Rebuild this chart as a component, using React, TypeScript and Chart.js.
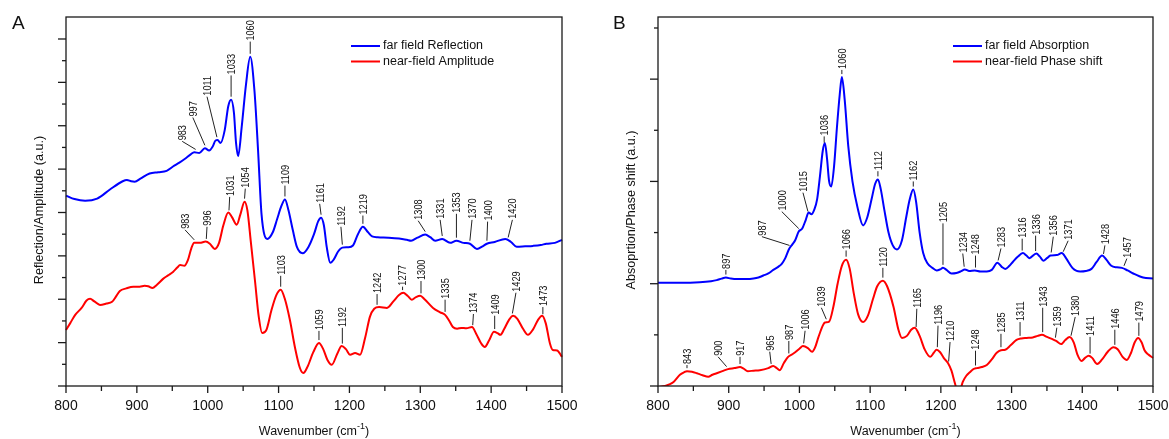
import React, { useEffect, useRef } from "react";
import { Chart, registerables } from "chart.js";

Chart.register(...registerables);

// ---------------- data ----------------
const xTickLabels = [800, 900, 1000, 1100, 1200, 1300, 1400, 1500];

// Panel A – far field reflection (blue)
const waveReflection = [
  800, 812, 827, 844, 862, 880, 886, 892, 897, 905, 918, 930, 942, 951, 960, 968, 976, 981, 988, 996,
  1002, 1007, 1011, 1014, 1018, 1024, 1029, 1033, 1037, 1040, 1043, 1048, 1054, 1060, 1066, 1071, 1076,
  1084, 1092, 1098, 1104, 1109, 1114, 1120, 1126, 1134, 1142, 1150, 1156, 1160, 1164, 1168, 1173, 1178,
  1184, 1190, 1198, 1205, 1212, 1219, 1226, 1232, 1240, 1255, 1270, 1281, 1287, 1296, 1307, 1314, 1321,
  1331, 1342, 1351, 1361, 1370, 1380, 1388, 1394, 1405, 1420, 1428, 1436, 1448, 1459, 1470, 1478, 1490, 1500,
];
const farReflection = [
  4.39, 4.31, 4.27, 4.32, 4.53, 4.72, 4.75, 4.72, 4.71, 4.78, 4.9, 4.93, 4.96, 5.06, 5.15, 5.24, 5.34, 5.39, 5.37, 5.48,
  5.43, 5.52, 5.66, 5.67, 5.6, 5.9, 6.45, 6.6, 6.3, 5.6, 5.3, 5.98, 6.95, 7.59, 6.8, 5.45, 3.95,
  3.39, 3.55, 3.85, 4.15, 4.3, 4.05, 3.6, 3.2, 3.06, 3.2, 3.5, 3.8, 3.88, 3.7, 3.2, 2.84, 2.92,
  3.1, 3.19, 3.2, 3.24, 3.5, 3.67, 3.55, 3.45, 3.43, 3.42, 3.4, 3.37, 3.35, 3.42, 3.49, 3.43, 3.35,
  3.39, 3.3, 3.35, 3.3, 3.28, 3.16, 3.22, 3.28, 3.32, 3.39, 3.32, 3.21, 3.22, 3.23, 3.25, 3.28, 3.3, 3.37,
];

// Panel A – near-field amplitude (red)
const waveAmplitude = [
  800, 806, 813, 822, 829, 834, 840, 848, 857, 865, 870, 876, 885, 895, 904, 911, 916, 922, 928, 937,
  944, 951, 957, 961, 967, 972, 977, 981, 989, 997, 1003, 1010, 1016, 1022, 1029, 1034, 1041, 1046, 1052,
  1056, 1061, 1067, 1072, 1077, 1083, 1090, 1097, 1103, 1109, 1116, 1123, 1130, 1135, 1141, 1149, 1157,
  1163, 1169, 1175, 1183, 1189, 1195, 1201, 1208, 1215, 1222, 1229, 1235, 1242, 1253, 1262, 1270, 1276,
  1282, 1288, 1294, 1300, 1306, 1318, 1328, 1335, 1341, 1346, 1352, 1358, 1365, 1373, 1379, 1386, 1391,
  1397, 1404, 1409, 1413, 1418, 1425, 1431, 1437, 1445, 1452, 1459, 1466, 1472, 1477, 1483, 1487, 1493, 1500,
];
const nearAmplitude = [
  1.29, 1.45, 1.64, 1.8, 1.97, 2.01, 1.95, 1.87, 1.9, 1.94, 2.05, 2.19, 2.25, 2.29, 2.29, 2.31, 2.3, 2.26, 2.33, 2.47,
  2.55, 2.63, 2.73, 2.79, 2.77, 2.9, 3.18, 3.3, 3.3, 3.33, 3.28, 3.16, 3.3, 3.7, 4.0, 3.9, 3.72, 3.95, 4.25,
  4.05, 3.3, 2.38, 1.6, 1.22, 1.3, 1.75, 2.1, 2.22, 2.0, 1.52, 0.9, 0.42, 0.3, 0.45, 0.78, 0.99,
  0.85, 0.6, 0.49, 0.75, 0.92, 0.85, 0.72, 0.76, 0.72, 1.1, 1.6, 1.78, 1.82, 1.8, 1.95, 2.1, 2.15,
  2.08, 1.99, 2.05, 2.08, 2.0, 1.8, 1.7, 1.64, 1.5, 1.36, 1.32, 1.34, 1.33, 1.36, 1.2, 0.98, 0.9,
  1.05, 1.25, 1.22, 1.18, 1.3, 1.52, 1.62, 1.55, 1.32, 1.18, 1.3, 1.52, 1.62, 1.45, 0.98, 0.83, 0.82, 0.67,
];

// Panel B – far field absorption (blue)
const waveAbsorption = [
  800, 830, 859, 875, 883, 890, 896, 903, 912, 925, 935, 942, 949, 956, 963, 970, 975, 980, 985, 990,
  994, 999, 1004, 1009, 1013, 1017, 1021, 1025, 1029, 1033, 1036, 1039, 1042, 1045, 1049, 1053, 1057,
  1060, 1064, 1069, 1075, 1082, 1090, 1096, 1102, 1107, 1111, 1115, 1120, 1126, 1132, 1138, 1145, 1151,
  1156, 1161, 1165, 1170, 1175, 1181, 1188, 1194, 1199, 1203, 1208, 1215, 1222, 1228, 1234, 1240, 1248,
  1256, 1265, 1272, 1280, 1286, 1291, 1297, 1302, 1309, 1316, 1321, 1325, 1335, 1340, 1345, 1350, 1355,
  1364, 1371, 1377, 1386, 1392, 1397, 1405, 1413, 1420, 1428, 1434, 1441, 1449, 1456, 1464, 1472, 1486, 1500,
];
const farAbsorption = [
  2.02, 2.02, 2.03, 2.05, 2.07, 2.1, 2.12, 2.1, 2.09, 2.09, 2.1, 2.12, 2.16, 2.2, 2.27, 2.33, 2.39, 2.5, 2.67, 2.77,
  2.85, 3.02, 3.08, 3.25, 3.39, 3.36, 3.45, 3.65, 4.1, 4.6, 4.75, 4.45, 4.0, 3.9, 4.3, 5.05, 5.7,
  6.04, 5.6, 4.7, 4.0, 3.5, 3.14, 3.3, 3.65, 3.95, 4.04, 3.85, 3.45, 3.0, 2.75, 2.67, 2.85, 3.3,
  3.65, 3.84, 3.6, 3.0, 2.6, 2.4, 2.31, 2.26, 2.28, 2.31, 2.27, 2.2, 2.21, 2.24, 2.28, 2.25, 2.26,
  2.24, 2.24, 2.27, 2.41, 2.33, 2.29, 2.35, 2.43, 2.53, 2.6, 2.55, 2.5, 2.59, 2.53, 2.45, 2.5, 2.55,
  2.56, 2.6, 2.5, 2.31, 2.25, 2.24, 2.25, 2.29, 2.42, 2.55, 2.47, 2.35, 2.32, 2.31, 2.26, 2.2, 2.12, 2.1,
];

// Panel B – near-field phase shift (red)
const wavePhase = [
  800, 810, 816, 822, 831, 837, 841, 848, 855, 863, 871, 877, 883, 891, 899, 908, 916, 921, 927, 935,
  944, 956, 963, 968, 972, 978, 984, 990, 994, 1000, 1005, 1012, 1018, 1022, 1027, 1033, 1036, 1042,
  1048, 1054, 1060, 1066, 1071, 1077, 1083, 1090, 1097, 1104, 1110, 1118, 1124, 1133, 1140, 1145, 1152,
  1158, 1163, 1170, 1177, 1185, 1190, 1194, 1199, 1204, 1210, 1215, 1220, 1224, 1228, 1231, 1236, 1241,
  1246, 1251, 1258, 1265, 1272, 1279, 1285, 1291, 1299, 1307, 1314, 1321, 1330, 1337, 1343, 1350, 1357,
  1363, 1370, 1376, 1382, 1388, 1393, 1399, 1404, 1409, 1414, 1421, 1428, 1436, 1444, 1450, 1457, 1463,
  1469, 1474, 1479, 1484, 1488, 1493, 1500,
];
const nearPhase = [
  -0.02, 0.0, 0.03, 0.08, 0.22, 0.27, 0.29, 0.28, 0.25, 0.21, 0.18, 0.22, 0.25, 0.29, 0.33, 0.35, 0.37, 0.34, 0.29, 0.3,
  0.31, 0.35, 0.39, 0.35, 0.31, 0.45, 0.57, 0.62, 0.66, 0.73, 0.78, 0.74, 0.67, 0.75, 0.96, 1.18, 1.24, 1.26,
  1.55, 2.0, 2.35, 2.47, 2.3, 1.8, 1.4, 1.25, 1.38, 1.7, 1.95, 2.06, 1.95, 1.55, 1.1, 0.94, 0.98,
  1.1, 1.14, 0.98, 0.72, 0.57, 0.65, 0.71, 0.66, 0.55, 0.45, 0.3, 0.05, -0.12, -0.05, 0.08, 0.2, 0.27,
  0.33, 0.35, 0.37, 0.41, 0.52, 0.65, 0.7, 0.71, 0.8, 0.9, 0.93, 0.94, 0.95, 0.98, 1.0, 0.96, 0.92,
  0.88, 0.82, 0.9, 0.96, 0.85, 0.62, 0.49, 0.55, 0.59, 0.55, 0.43, 0.52, 0.67, 0.76, 0.72, 0.57, 0.51,
  0.65, 0.85, 0.94, 0.85, 0.7, 0.62, 0.55,
];

// Peak labels: [text, label wavenumber, label bottom value, peak wavenumber (if slanted)]
type Peak = [string, number, number, number?];

const peaksReflection: Peak[] = [
  ["983", 964, 5.64, 983], ["997", 979, 6.19, 996], ["1011", 999, 6.67, 1013], ["1033", 1033, 7.16],
  ["1060", 1060, 7.94], ["1109", 1109, 4.62], ["1161", 1158, 4.2, 1160], ["1192", 1188, 3.67, 1190],
  ["1219", 1219, 3.93], ["1308", 1297, 3.81, 1307], ["1331", 1328, 3.83, 1331], ["1353", 1351, 3.97],
  ["1370", 1373, 3.83, 1370], ["1400", 1395, 3.79, 1394], ["1420", 1430, 3.83, 1424],
];
const peaksAmplitude: Peak[] = [
  ["983", 968, 3.6, 981], ["996", 999, 3.67, 998], ["1031", 1031, 4.36, 1030], ["1054", 1053, 4.55, 1052],
  ["1103", 1103, 2.54], ["1059", 1157, 1.27], ["1192", 1190, 1.34], ["1242", 1239, 2.12],
  ["1277", 1275, 2.29], ["1300", 1301, 2.42], ["1335", 1335, 1.99], ["1374", 1375, 1.66, 1374],
  ["1409", 1405, 1.62], ["1429", 1435, 2.15, 1430], ["1473", 1473, 1.82],
];
const peaksAbsorption: Peak[] = [
  ["897", 896, 2.27], ["987", 947, 2.92, 986], ["1000", 975, 3.41, 999], ["1015", 1005, 3.78, 1012],
  ["1036", 1035, 4.88], ["1060", 1060, 6.18], ["1112", 1111, 4.2], ["1162", 1161, 4.0],
  ["1205", 1203, 3.18], ["1234", 1231, 2.59, 1233], ["1248", 1249, 2.55], ["1283", 1285, 2.69, 1281],
  ["1316", 1315, 2.88], ["1336", 1334, 2.94], ["1356", 1359, 2.92, 1356], ["1371", 1380, 2.84, 1373],
  ["1428", 1432, 2.75, 1430], ["1457", 1463, 2.49, 1459],
];
const peaksPhase: Peak[] = [
  ["843", 841, 0.41], ["900", 885, 0.57, 897], ["917", 916, 0.57], ["965", 958, 0.67, 960],
  ["987", 985, 0.88], ["1006", 1008, 1.08, 1006], ["1039", 1031, 1.53, 1038], ["1066", 1066, 2.65],
  ["1120", 1118, 2.31], ["1165", 1166, 1.51, 1165], ["1196", 1196, 1.18, 1195], ["1210", 1213, 0.86, 1211],
  ["1248", 1249, 0.69], ["1285", 1285, 1.02], ["1311", 1312, 1.25], ["1343", 1344, 1.53],
  ["1359", 1364, 1.14, 1362], ["1380", 1390, 1.35, 1384], ["1411", 1411, 0.96], ["1446", 1446, 1.1],
  ["1479", 1480, 1.24],
];

// ---------------- drawing ----------------
const FONT = '"Liberation Sans", Arial, Helvetica, sans-serif';
const AXIS = "#1a1a1a";
const BLUE = "#0000ff";
const RED = "#ff0000";

type Series = { label: string; color: string; waves: number[]; vals: number[]; peaks: Peak[] };
type PanelCfg = {
  letter: string;
  yTitle: string;
  yMax: number;
  yStep: number;
  majorEvery: number;
  series: Series[];
  padding: { left: number; top: number; right: number; bottom: number };
  legendX: number;
  letterX: number;
  yTitleX: number;
};

function interp(xs: number[], ys: number[], x: number) {
  if (x <= xs[0]) return ys[0];
  for (let i = 1; i < xs.length; i++) {
    if (x <= xs[i]) {
      const t = (x - xs[i - 1]) / (xs[i] - xs[i - 1]);
      return ys[i - 1] + t * (ys[i] - ys[i - 1]);
    }
  }
  return ys[ys.length - 1];
}

function decorPlugin(cfg: PanelCfg) {
  return {
    id: "decor" + cfg.letter,
    afterDatasetsDraw(chart: any) {
      const ctx: CanvasRenderingContext2D = chart.ctx;
      const { left, right, top, bottom } = chart.chartArea;
      const xs = chart.scales.x;
      const ys = chart.scales.y;
      ctx.save();
      ctx.strokeStyle = AXIS;
      ctx.fillStyle = "#111";
      ctx.lineWidth = 1.3;
      ctx.strokeRect(left, top, right - left, bottom - top);

      // x ticks + labels
      ctx.font = `14px ${FONT}`;
      ctx.textAlign = "center";
      ctx.textBaseline = "alphabetic";
      for (let i = 0; i < xTickLabels.length; i++) {
        const v = xTickLabels[i];
        const px = xs.getPixelForValue(v);
        ctx.beginPath();
        ctx.moveTo(px, bottom);
        ctx.lineTo(px, bottom + 7);
        ctx.stroke();
        ctx.fillText(String(v), px, 410);
        if (i < xTickLabels.length - 1) {
          const pm = xs.getPixelForValue((v + xTickLabels[i + 1]) / 2);
          ctx.beginPath();
          ctx.moveTo(pm, bottom);
          ctx.lineTo(pm, bottom + 5);
          ctx.stroke();
        }
      }
      // y ticks
      for (let v = 0; v <= cfg.yMax + 1e-9; v += cfg.yStep) {
        const py = ys.getPixelForValue(v);
        if (py < top + 4) continue;
        const r = v / cfg.majorEvery;
        const major = Math.abs(r - Math.round(r)) < 1e-6;
        ctx.beginPath();
        ctx.moveTo(left - (major ? 8 : 4), py);
        ctx.lineTo(left, py);
        ctx.stroke();
      }

      // panel letter
      ctx.font = `19px ${FONT}`;
      ctx.textAlign = "left";
      ctx.fillText(cfg.letter, cfg.letterX, 29);

      // y title
      ctx.save();
      ctx.translate(cfg.yTitleX, 210);
      ctx.rotate(-Math.PI / 2);
      ctx.font = `12.6px ${FONT}`;
      ctx.textAlign = "center";
      ctx.textBaseline = "middle";
      ctx.fillText(cfg.yTitle, 0, 0);
      ctx.restore();

      // x title with superscript
      const cx = (left + right) / 2;
      ctx.font = `12.5px ${FONT}`;
      const a = "Wavenumber (cm";
      const sup = "-1";
      const b = ")";
      const wa = ctx.measureText(a).width;
      const wb = ctx.measureText(b).width;
      ctx.font = `9px ${FONT}`;
      const ws = ctx.measureText(sup).width;
      const x0 = cx - (wa + ws + wb) / 2;
      ctx.textAlign = "left";
      ctx.font = `12.5px ${FONT}`;
      ctx.fillText(a, x0, 435);
      ctx.fillText(b, x0 + wa + ws, 435);
      ctx.font = `9px ${FONT}`;
      ctx.fillText(sup, x0 + wa, 429);

      // legend
      ctx.font = `12.5px ${FONT}`;
      ctx.textBaseline = "middle";
      cfg.series.forEach((s, i) => {
        const y = 46 + i * 15.5;
        ctx.strokeStyle = s.color;
        ctx.lineWidth = 2;
        ctx.beginPath();
        ctx.moveTo(cfg.legendX, y);
        ctx.lineTo(cfg.legendX + 29, y);
        ctx.stroke();
        ctx.fillStyle = "#111";
        ctx.fillText(s.label, cfg.legendX + 32, y);
      });

      // peak annotations
      ctx.strokeStyle = "#222";
      ctx.fillStyle = "#111";
      ctx.lineWidth = 1;
      cfg.series.forEach((s) => {
        s.peaks.forEach(([text, lx, ly, pk]) => {
          const peakX = pk === undefined ? lx : pk;
          const cy = interp(s.waves, s.vals, peakX);
          const x0p = xs.getPixelForValue(peakX);
          const y0p = ys.getPixelForValue(cy) - 3;
          const x1p = xs.getPixelForValue(lx);
          const y1p = ys.getPixelForValue(ly);
          if (y0p - y1p > 1.5) {
            ctx.beginPath();
            ctx.moveTo(x0p, y0p);
            ctx.lineTo(x1p, y1p);
            ctx.stroke();
          }
          ctx.save();
          ctx.translate(x1p, y1p - 1);
          ctx.rotate(-Math.PI / 2);
          ctx.scale(0.85, 1);
          ctx.font = `10.8px ${FONT}`;
          ctx.textAlign = "left";
          ctx.textBaseline = "alphabetic";
          ctx.fillText(text, 0, 3.9);
          ctx.restore();
        });
      });
      ctx.restore();
    },
  };
}

function Panel({ cfg, left, width }: { cfg: PanelCfg; left: number; width: number }) {
  const ref = useRef<HTMLCanvasElement>(null);
  useEffect(() => {
    const chart = new Chart(ref.current as HTMLCanvasElement, {
      type: "line",
      data: {
        datasets: cfg.series.map((s) => ({
          label: s.label,
          data: s.waves.map((x, i) => ({ x, y: s.vals[i] })),
          borderColor: s.color,
          backgroundColor: s.color,
          borderWidth: 2,
          pointRadius: 0,
          cubicInterpolationMode: "monotone" as const,
          clip: { left: 2, right: 2, top: 2, bottom: 0 } as any,
        })),
      },
      options: {
        animation: false,
        responsive: false,
        devicePixelRatio: 1,
        layout: { padding: cfg.padding },
        plugins: { legend: { display: false }, tooltip: { enabled: false } },
        scales: {
          x: { type: "linear", min: 800, max: 1500, display: false },
          y: { type: "linear", min: 0, max: cfg.yMax, display: false },
        },
      },
      plugins: [decorPlugin(cfg)],
    } as any);
    return () => chart.destroy();
  }, [cfg]);
  return (
    <canvas
      ref={ref}
      width={width}
      height={439}
      style={{ position: "absolute", left, top: 0, width, height: 439 }}
    />
  );
}

const panelA: PanelCfg = {
  letter: "A",
  yTitle: "Reflection/Amplitude (a.u.)",
  yMax: 8.507,
  yStep: 0.5,
  majorEvery: 1,
  series: [
    { label: "far field Reflection", color: BLUE, waves: waveReflection, vals: farReflection, peaks: peaksReflection },
    { label: "near-field Amplitude", color: RED, waves: waveAmplitude, vals: nearAmplitude, peaks: peaksAmplitude },
  ],
  padding: { left: 66, top: 17, right: 23, bottom: 53 },
  legendX: 351,
  letterX: 12,
  yTitleX: 40,
};

const panelB: PanelCfg = {
  letter: "B",
  yTitle: "Absoprtion/Phase shift (a.u.)",
  yMax: 7.215,
  yStep: 1,
  majorEvery: 2,
  series: [
    { label: "far field Absorption", color: BLUE, waves: waveAbsorption, vals: farAbsorption, peaks: peaksAbsorption },
    { label: "near-field Phase shift", color: RED, waves: wavePhase, vals: nearPhase, peaks: peaksPhase },
  ],
  padding: { left: 73, top: 17, right: 16, bottom: 53 },
  legendX: 368,
  letterX: 28,
  yTitleX: 47,
};

export default function App() {
  return (
    <div style={{ position: "fixed", left: 0, top: 0, width: 1169, height: 439, background: "#fff", overflow: "hidden" }}>
      <Panel cfg={panelA} left={0} width={585} />
      <Panel cfg={panelB} left={585} width={584} />
    </div>
  );
}
